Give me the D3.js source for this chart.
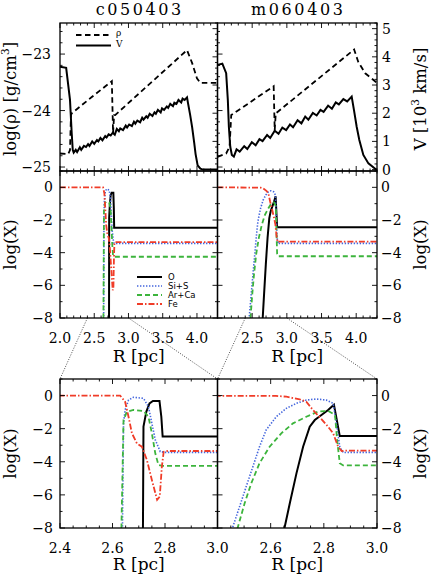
<!DOCTYPE html>
<html>
<head>
<meta charset="utf-8">
<script src="https://cdn.jsdelivr.net/npm/d3@7"></script>
<style>
body { margin: 0; background: #fff; }
text { font-family: "DejaVu Serif", serif; fill: #000; }
</style>
</head>
<body>
<script>

const models = ["c050403", "m060403"];

// density log(rho) and velocity V [10^3 km/s] against R [pc]
const cRho = [[2.00,-24.76],[2.12,-24.77],[2.146,-24.70],[2.16,-24.08],[2.171,-24.05],[2.464,-23.76],[2.757,-23.48],
  [2.775,-24.40],[2.79,-24.08],[2.805,-24.08],[3.855,-22.93],[3.93,-23.16],[4.00,-23.43],[4.05,-23.51],[4.30,-23.51]];
const mRho = [[2.00,-24.82],[2.125,-24.76],[2.174,-24.64],[2.198,-24.08],[2.81,-23.57],[2.825,-24.35],[2.84,-24.05],
  [3.97,-22.92],[4.03,-23.14],[4.13,-23.34],[4.25,-23.46],[4.30,-23.51]];

const cV = [[2.00,3.65],[2.09,3.61],[2.146,2.47],[2.171,1.29],[2.186,0.70],[2.20,0.60],
  [2.23,0.70],[2.25,0.62],[2.29,0.79],[2.31,0.70],[2.35,0.84],[2.38,0.80],[2.41,0.90],[2.43,0.84],
  [2.47,1.00],[2.50,0.91],[2.54,1.05],[2.56,1.00],[2.59,1.12],[2.62,1.04],[2.66,1.19],[2.68,1.14],
  [2.71,1.25],[2.74,1.21],[2.77,1.31],[2.80,1.24],[2.83,1.44],[2.86,1.36],[2.88,1.46],[2.92,1.40],
  [2.96,1.56],[2.98,1.49],[3.01,1.60],[3.05,1.54],[3.08,1.70],[3.10,1.63],[3.13,1.74],[3.17,1.68],
  [3.20,1.84],[3.22,1.77],[3.26,1.89],[3.28,1.84],[3.31,1.98],[3.35,1.90],[3.38,2.03],[3.40,1.98],
  [3.43,2.12],[3.47,2.03],[3.49,2.17],[3.52,2.12],[3.56,2.24],[3.58,2.19],[3.61,2.33],[3.65,2.25],
  [3.67,2.37],[3.70,2.33],[3.73,2.47],[3.77,2.38],[3.79,2.52],[3.82,2.47],[3.855,2.56],
  [3.87,2.35],[3.90,1.95],[3.93,1.50],[3.96,0.95],[3.98,0.55],[4.01,0.15],[4.05,0.03],[4.09,0.00],[4.30,0.00]];
const mV = [[2.00,3.71],[2.07,3.76],[2.125,3.42],[2.149,2.47],[2.164,1.52],[2.184,0.81],[2.207,0.52],[2.236,0.46],
  [2.275,0.72],[2.32,0.64],[2.385,0.83],[2.43,0.73],[2.495,0.97],[2.55,0.86],[2.605,1.08],[2.65,1.01],
  [2.715,1.23],[2.76,1.12],[2.825,1.38],[2.88,1.27],[2.935,1.49],[2.99,1.40],[3.045,1.60],[3.09,1.50],
  [3.155,1.75],[3.21,1.64],[3.265,1.88],[3.31,1.77],[3.375,2.01],[3.43,1.92],[3.485,2.12],[3.53,2.05],
  [3.595,2.27],[3.65,2.16],[3.705,2.38],[3.75,2.31],[3.815,2.50],[3.87,2.42],[3.935,2.59],
  [3.968,2.11],[4.007,1.52],[4.045,1.05],[4.103,0.52],[4.176,0.22],[4.287,0.00],[4.30,0.00]];

// abundances log(X) against R [pc]
const cO  = [[2.716,-9],[2.716,-8],[2.718,-1.88],[2.729,-0.97],[2.741,-0.47],[2.754,-0.33],[2.779,-0.33],[2.786,-1.28],[2.791,-2.47],[2.80,-2.47],[4.30,-2.47]];
const cSi = [[2.638,-9],[2.638,-8],[2.642,-1.68],[2.648,-0.87],[2.661,-0.27],[2.68,-0.10],[2.718,-0.17],[2.737,-0.67],[2.75,-1.68],[2.763,-2.68],[2.782,-3.39],[2.80,-3.43],[4.30,-3.43]];
const cAr = [[2.634,-9],[2.634,-8],[2.642,-1.48],[2.655,-0.97],[2.68,-0.87],[2.718,-0.93],[2.737,-1.28],[2.75,-2.28],[2.763,-3.49],[2.775,-4.19],[2.79,-4.25],[4.30,-4.25]];
const cFe = [[2.00,0],[2.629,0],[2.648,-0.37],[2.661,-1.28],[2.674,-2.28],[2.693,-2.89],[2.712,-3.09],[2.731,-3.89],[2.75,-5.1],[2.77,-6.3],[2.78,-6.1],[2.788,-4.3],[2.795,-3.39],[2.81,-3.35],[4.30,-3.35]];

const mO  = [[2.64,-9],[2.653,-7.92],[2.672,-6.51],[2.697,-4.7],[2.722,-3.09],[2.747,-1.88],[2.766,-1.48],[2.791,-1.17],[2.816,-0.87],[2.838,-0.55],[2.86,-2.45],[4.30,-2.45]];
const mSi = [[2.44,-9],[2.458,-7.92],[2.483,-6.71],[2.508,-5.5],[2.533,-4.3],[2.558,-3.09],[2.583,-2.08],[2.621,-1.28],[2.659,-0.77],[2.697,-0.47],[2.734,-0.27],[2.771,-0.21],[2.809,-0.27],[2.835,-0.47],[2.847,-1.68],[2.86,-3.09],[2.873,-3.45],[2.89,-3.43],[4.30,-3.43]];
const mAr = [[2.46,-9],[2.477,-7.92],[2.502,-6.51],[2.527,-5.3],[2.558,-4.09],[2.596,-3.09],[2.64,-2.28],[2.684,-1.68],[2.734,-1.28],[2.778,-0.97],[2.816,-0.93],[2.842,-1.17],[2.85,-2.68],[2.86,-4.09],[2.873,-4.22],[4.30,-4.22]];
const mFe = [[2.00,0],[2.62,-0.02],[2.659,-0.07],[2.709,-0.23],[2.734,-0.37],[2.759,-0.87],[2.791,-1.42],[2.816,-1.88],[2.835,-2.28],[2.854,-3.09],[2.867,-3.35],[2.88,-3.33],[4.30,-3.33]];

const elements = ["O", "Si+S", "Ar+Ca", "Fe"];
const elemData = [[cO, cSi, cAr, cFe], [mO, mSi, mAr, mFe]];

const wideTicks = [2.0, 2.5, 3.0, 3.5, 4.0];
const zoomTicks = [2.4, 2.6, 2.8, 3.0];
const rhoTicks = [-25, -24, -23];
const vTicks = [0, 1, 2, 3, 4, 5];
const xTicks = [0, -2, -4, -6, -8];

const elemStyle = [
  { color: "#000000", dash: null, width: 2 },
  { color: "#4466dd", dash: "1.4,1.6", width: 1.6 },
  { color: "#3cb43c", dash: "5,3", width: 1.8 },
  { color: "#f03c28", dash: "6,2,1.5,2", width: 1.8 }
];

const svg = d3.select("body").append("svg").attr("width", 432).attr("height", 576);

const cols = [[60, 217.5], [217.5, 377]];
const rowTop = [171, 23], rowMid = [318, 171], rowBot = [528, 379];

const fmtR = d3.format(".1f");
const fmtN = d3.format("d");

function range(a, b, s) {
  return d3.range(Math.round((b - a) / s) + 1).map(i => a + i * s);
}

function frame(g, x, xMajor, xMinor, ySides, major, minor) {
  const [x0, x1] = x.range(), [y0, y1] = ySides[0].scale.range();
  const t = g.append("g").attr("stroke", "#000").attr("stroke-width", 0.9);
  range(xMinor[0], xMinor[1], xMinor[2]).forEach(v => {
    const L = xMajor.some(m => Math.abs(m - v) < 1e-6) ? major : minor;
    t.append("line").attr("x1", x(v)).attr("x2", x(v)).attr("y1", y0).attr("y2", y0 - L);
    t.append("line").attr("x1", x(v)).attr("x2", x(v)).attr("y1", y1).attr("y2", y1 + L);
  });
  ySides.forEach((spec, side) => {
    const ys = spec.scale, xp = side === 0 ? x0 : x1, d = side === 0 ? 1 : -1;
    range(spec.from, spec.to, spec.step).forEach(v => {
      const L = spec.major.some(m => Math.abs(m - v) < 1e-6) ? major : minor;
      t.append("line").attr("x1", xp).attr("x2", xp + d * L).attr("y1", ys(v)).attr("y2", ys(v));
    });
  });
  g.append("rect").attr("x", x0).attr("y", y1).attr("width", x1 - x0).attr("height", y0 - y1)
    .attr("fill", "none").attr("stroke", "#000").attr("stroke-width", 1.3);
}

function clip(id, x, y) {
  const [x0, x1] = x.range(), [y0, y1] = y.range();
  svg.append("clipPath").attr("id", id).append("rect")
    .attr("x", x0).attr("y", y1).attr("width", x1 - x0).attr("height", y0 - y1);
  return "url(#" + id + ")";
}

function yLabel(x, y, parts) {
  const t = svg.append("text").attr("transform", `translate(${x},${y}) rotate(-90)`)
    .attr("text-anchor", "middle").attr("font-size", 16.5);
  parts.forEach(p => {
    const s = t.append("tspan").text(p.t);
    if (p.sup) s.attr("font-size", 10.5).attr("dy", -7);
    if (p.after) s.attr("dy", 7);
  });
}

models.forEach((name, k) => {
  const col = cols[k];
  const xW = d3.scaleLinear().domain([2.0, 4.3]).range(col);
  const xZ = d3.scaleLinear().domain([2.4, 3.0]).range(col);
  const yRho = d3.scaleLinear().domain([-25.07, -22.45]).range(rowTop);
  const yV = d3.scaleLinear().domain([-0.05, 5.2]).range(rowTop);
  const yXm = d3.scaleLinear().domain([-8, 1]).range(rowMid);
  const yXb = d3.scaleLinear().domain([-8, 1]).range(rowBot);

  svg.append("text").attr("x", (col[0] + col[1]) / 2 + 1).attr("y", 15).attr("text-anchor", "middle")
    .attr("font-size", 16).attr("letter-spacing", 2.6).text(name);

  // top: density and velocity
  const gT = svg.append("g");
  const cpT = clip("cpT" + k, xW, yRho);
  const rho = k === 0 ? cRho : mRho, vel = k === 0 ? cV : mV;
  gT.append("path").datum(rho).attr("clip-path", cpT)
    .attr("d", d3.line().x(d => xW(d[0])).y(d => yRho(d[1])))
    .attr("fill", "none").attr("stroke", "#000").attr("stroke-width", 1.8).attr("stroke-dasharray", "5.5,3.5");
  gT.append("path").datum(vel).attr("clip-path", cpT)
    .attr("d", d3.line().x(d => xW(d[0])).y(d => yV(d[1])))
    .attr("fill", "none").attr("stroke", "#000").attr("stroke-width", 2);
  frame(gT, xW, wideTicks, [2.0, 4.3, 0.1],
    [{ scale: yRho, from: -25, to: -22.6, step: 0.2, major: rhoTicks },
     { scale: yV, from: 0, to: 5.2, step: 0.2, major: vTicks }], 5, 2.5);

  // middle and bottom: abundances
  [[xW, yXm, "M"], [xZ, yXb, "B"]].forEach(([x, y, tag]) => {
    const g = svg.append("g");
    const cp = clip("cp" + tag + k, x, y);
    elemData[k].forEach((arr, i) => {
      const st = elemStyle[i];
      g.append("path").datum(arr).attr("clip-path", cp)
        .attr("d", d3.line().x(d => x(d[0])).y(d => y(d[1])))
        .attr("fill", "none").attr("stroke", st.color).attr("stroke-width", st.width)
        .attr("stroke-dasharray", st.dash);
    });
    const labs = tag === "M" ? wideTicks : zoomTicks;
    const xm = tag === "M" ? [2.0, 4.3, 0.1] : [2.4, 3.0, 0.05];
    const ys = { scale: y, from: -8, to: 1, step: 1, major: xTicks };
    frame(g, x, labs, xm, [ys, ys], 5, 2.5);

    // x tick labels
    const y0 = y.range()[0];
    labs.filter(v => !(k === 1 && v === labs[0])).forEach(v => {
      svg.append("text").attr("x", x(v)).attr("y", y0 + 25).attr("text-anchor", "middle")
        .attr("font-size", 14).text(fmtR(v));
    });
    svg.append("text").attr("x", (col[0] + col[1]) / 2).attr("y", y0 + (tag === "M" ? 44 : 42))
      .attr("text-anchor", "middle").attr("font-size", 17).text("R [pc]");

    // y tick labels
    xTicks.forEach(v => {
      svg.append("text").attr("x", k === 0 ? 53 : 381).attr("y", y(v)).attr("dy", "0.36em")
        .attr("text-anchor", k === 0 ? "end" : "start").attr("font-size", 14).text(fmtN(v));
    });
    const yc = (y.range()[0] + y.range()[1]) / 2;
    yLabel(k === 0 ? 16 : 426, yc, [{ t: "log(X)" }]);
  });

  // zoom connector lines
  const gz = svg.append("g").attr("stroke", "#000").attr("stroke-width", 0.7).attr("stroke-dasharray", "1,1.5");
  [2.4, 3.0].forEach(r => {
    gz.append("line").attr("x1", xW(r)).attr("y1", rowMid[0]).attr("x2", xZ(r)).attr("y2", rowBot[1]);
  });

  // top tick labels
  if (k === 0) {
    rhoTicks.forEach(v => {
      svg.append("text").attr("x", 51).attr("y", yRho(v)).attr("dy", "0.36em")
        .attr("text-anchor", "end").attr("font-size", 14).text(fmtN(v));
    });
    yLabel(16, 99, [{ t: "log(ρ) [g/cm" }, { t: "3", sup: true }, { t: "]", after: true }]);
  } else {
    vTicks.forEach(v => {
      svg.append("text").attr("x", 382).attr("y", yV(v)).attr("dy", "0.36em")
        .attr("text-anchor", "start").attr("font-size", 14).text(fmtN(v));
    });
    yLabel(426, 99, [{ t: "V [10" }, { t: "3", sup: true }, { t: " km/s]", after: true }]);
  }
});

// legend, top left
const lg = svg.append("g");
lg.append("line").attr("x1", 76).attr("x2", 111).attr("y1", 35).attr("y2", 35)
  .attr("stroke", "#000").attr("stroke-width", 1.8).attr("stroke-dasharray", "5.5,3.5");
lg.append("line").attr("x1", 76).attr("x2", 111).attr("y1", 45.5).attr("y2", 45.5)
  .attr("stroke", "#000").attr("stroke-width", 2);
lg.append("text").attr("x", 116).attr("y", 36).attr("font-size", 9).text("ρ");
lg.append("text").attr("x", 116).attr("y", 47).attr("font-size", 9).text("V");

// legend, middle left
const el = svg.append("g");
elements.forEach((name, i) => {
  const st = elemStyle[i], yy = 277 + i * 9;
  el.append("line").attr("x1", 137).attr("x2", 162).attr("y1", yy).attr("y2", yy)
    .attr("stroke", st.color).attr("stroke-width", st.width).attr("stroke-dasharray", st.dash);
  el.append("text").attr("x", 168).attr("y", yy).attr("dy", "0.35em")
    .style("font-family", "'DejaVu Sans', sans-serif").attr("font-size", 8.5).text(name);
});

</script>
</body>
</html>
